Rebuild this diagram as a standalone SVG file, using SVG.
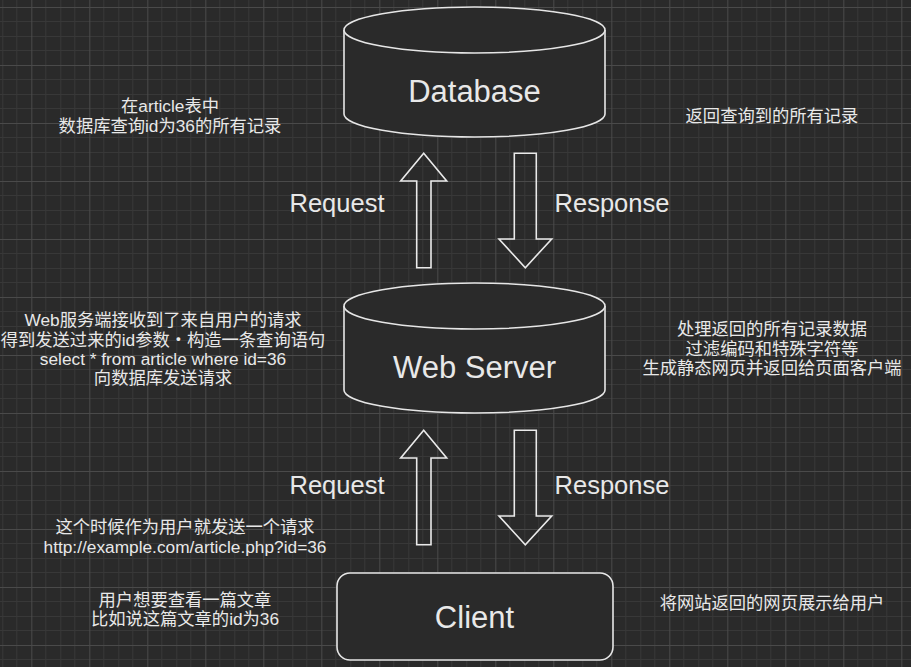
<svg xmlns="http://www.w3.org/2000/svg" width="911" height="667" viewBox="0 0 911 667">
<defs>
<pattern id="grid" x="31.3" y="7" width="58" height="58" patternUnits="userSpaceOnUse">
<g shape-rendering="crispEdges" stroke-width="1">
<path d="M14.5 0V58M29 0V58M43.5 0V58M0 14.5H58M0 29H58M0 43.5H58" stroke="#383838"/>
<path d="M0.5 0V58M0 0.5H58" stroke="#4a4a4a"/>
</g>
</pattern>
</defs>
<style>
.shape{fill:#2a2a2a;stroke:#e6e6e6;stroke-width:1.6}
.arrow{fill:none;stroke:#eaeaea;stroke-width:1.6;stroke-linejoin:miter}
text{font-family:"Liberation Sans","Noto Sans CJK SC",sans-serif;fill:#e8e8e8;text-anchor:middle}
.big{font-size:31px}
.lbl{font-size:25.5px}
.note{font-size:17.3px}
</style>
<rect width="911" height="667" fill="#2a2a2a"/>
<rect width="911" height="667" fill="url(#grid)"/>

<g id="database">
<path class="shape" d="M344 30A130.5 23 0 0 1 605 30V114A130.5 23 0 0 1 344 114Z"/>
<path class="shape" fill="none" d="M344 30A130.5 23 0 0 0 605 30"/>
<text class="big" x="474.5" y="102">Database</text>
</g>

<g id="webserver">
<path class="shape" d="M344 306A130.5 23 0 0 1 605 306V390A130.5 23 0 0 1 344 390Z"/>
<path class="shape" fill="none" d="M344 306A130.5 23 0 0 0 605 306"/>
<text class="big" x="474.5" y="378">Web Server</text>
</g>

<g id="client">
<rect class="shape" x="337" y="573" width="276" height="87" rx="13" ry="13"/>
<text class="big" x="474.5" y="628">Client</text>
</g>

<g id="connectors">
<polygon class="arrow" points="423.7,153.3 446.7,181 431,181 431,267.7 416.7,267.7 416.7,181 400.7,181"/>
<polygon class="arrow" points="514.3,153.3 536.3,153.3 536.3,239 551.7,239 525.3,267.7 499,239 514.3,239"/>
<polygon class="arrow" points="423.7,430.3 446.7,458 431,458 431,544.7 416.7,544.7 416.7,458 400.7,458"/>
<polygon class="arrow" points="514.3,430.3 536.3,430.3 536.3,516 551.7,516 525.3,544.7 499,516 514.3,516"/>
<text class="lbl" x="337" y="212">Request</text>
<text class="lbl" x="612" y="212">Response</text>
<text class="lbl" x="337" y="494">Request</text>
<text class="lbl" x="612" y="494">Response</text>
</g>

<g id="note-db-left" class="note">
<text class="note" x="170" y="112">在article表中</text>
<text class="note" x="170" y="132">数据库查询id为36的所有记录</text>
</g>
<g id="note-db-right">
<text class="note" x="772" y="122">返回查询到的所有记录</text>
</g>
<g id="note-ws-left">
<text class="note" x="163" y="326">Web服务端接收到了来自用户的请求</text>
<text class="note" x="163" y="345.5">得到发送过来的id参数・构造一条查询语句</text>
<text class="note" x="163" y="365">select * from article where id=36</text>
<text class="note" x="163" y="384">向数据库发送请求</text>
</g>
<g id="note-ws-right">
<text class="note" x="772" y="335">处理返回的所有记录数据</text>
<text class="note" x="772" y="354.5">过滤编码和特殊字符等</text>
<text class="note" x="772" y="374">生成静态网页并返回给页面客户端</text>
</g>
<g id="note-client-left">
<text class="note" x="185" y="533">这个时候作为用户就发送一个请求</text>
<text class="note" x="185" y="553">http://example.com/article.php?id=36</text>
<text class="note" x="185" y="606">用户想要查看一篇文章</text>
<text class="note" x="185" y="625">比如说这篇文章的id为36</text>
</g>
<g id="note-client-right">
<text class="note" x="772" y="609">将网站返回的网页展示给用户</text>
</g>
</svg>
